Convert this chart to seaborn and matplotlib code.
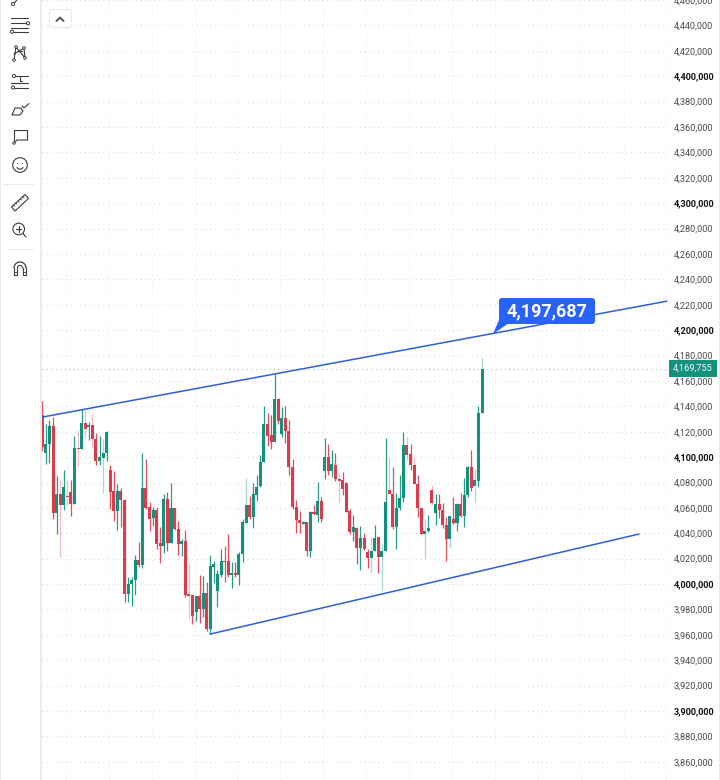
import numpy as np
import pandas as pd
import matplotlib
matplotlib.use("Agg")
import matplotlib.pyplot as plt
import seaborn as sns
from matplotlib.patches import Circle, FancyBboxPatch, Polygon, Rectangle

# prices in thousands
opens = [
    4133.0, 4103.6, 4110.2, 4124.4, 4055.6, 4070.8, 4062.4, 4069.3, 4072.9, 4063.0,
    4106.8, 4106.3, 4126.5, 4123.9, 4125.2, 4114.1, 4096.8, 4099.4, 4103.4, 4089.7,
    4073.2, 4057.7, 4073.2, 4066.6, 3992.3, 4000.0, 4003.1, 4018.8, 4014.9, 4075.3,
    4060.6, 4051.9, 4058.2, 4032.2, 4030.1, 4066.9, 4032.5, 4059.8, 4043.3, 4031.7,
    4033.8, 3991.8, 3991.3, 3978.2, 3990.5, 3980.5, 3992.6, 3965.0, 4013.6, 3994.7,
    4007.0, 4018.1, 4018.1, 4006.8, 4008.4, 4007.0, 4023.6, 4048.2, 4061.9, 4053.0,
    4070.3, 4077.1, 4096.3, 4126.0, 4117.3, 4112.0, 4145.6, 4118.3, 4130.9, 4120.4,
    4092.6, 4060.6, 4050.3, 4047.7, 4048.8, 4025.9, 4056.6, 4054.5, 4065.8, 4089.2,
    4100.0, 4089.2, 4093.7, 4082.6, 4081.9, 4079.5, 4057.4, 4040.9, 4044.3, 4028.6,
    4035.9, 4025.4, 4020.7, 4026.2, 4037.0, 4021.5, 4026.2, 4073.7, 4070.8, 4044.8,
    4060.1, 4068.0, 4109.4, 4102.3, 4093.4, 4078.7, 4059.8, 4039.6, 4042.0, 4074.0,
    4056.1, 4063.0, 4058.2, 4046.7, 4035.7, 4051.1, 4048.2, 4063.0, 4053.8, 4069.8,
    4092.1, 4077.1, 4081.3, 4134.4,
]
closes = [
    4108.1, 4110.7, 4124.4, 4055.6, 4070.8, 4062.4, 4076.1, 4068.7, 4063.0, 4106.8,
    4106.3, 4126.5, 4122.3, 4125.2, 4114.1, 4096.8, 4099.7, 4103.4, 4119.9, 4072.7,
    4057.7, 4073.2, 4066.1, 3992.3, 4000.0, 4003.1, 4018.8, 4014.9, 4075.3, 4060.1,
    4051.1, 4058.2, 4031.7, 4030.1, 4066.9, 4032.5, 4059.8, 4043.3, 4031.7, 4033.8,
    3991.3, 3991.0, 3974.7, 3990.5, 3980.5, 3992.6, 3965.0, 4014.1, 4016.2, 4007.6,
    4018.1, 4017.5, 4006.8, 4008.4, 4006.8, 4023.6, 4048.5, 4061.9, 4053.0, 4070.6,
    4076.3, 4096.3, 4126.0, 4116.8, 4112.0, 4145.6, 4128.6, 4130.9, 4120.2, 4092.6,
    4060.6, 4050.3, 4048.0, 4048.8, 4025.9, 4056.6, 4054.8, 4065.8, 4051.4, 4099.7,
    4089.2, 4094.2, 4082.9, 4081.3, 4075.0, 4056.9, 4040.9, 4044.6, 4028.6, 4035.9,
    4027.5, 4020.7, 4025.9, 4035.9, 4021.5, 4025.9, 4065.0, 4071.1, 4044.6, 4060.3,
    4067.4, 4109.4, 4101.8, 4093.9, 4079.0, 4060.1, 4039.6, 4042.0, 4043.8, 4063.5,
    4063.2, 4058.5, 4046.7, 4035.7, 4054.0, 4048.2, 4063.0, 4053.8, 4070.0, 4092.4,
    4075.8, 4081.6, 4134.4, 4169.755,
]
highs = [
    4144.3, 4125.7, 4129.6, 4131.7, 4085.0, 4081.9, 4090.2, 4081.9, 4081.9, 4116.5,
    4121.2, 4137.5, 4137.0, 4127.5, 4133.6, 4119.1, 4116.5, 4114.4, 4120.7, 4093.7,
    4088.7, 4079.2, 4075.3, 4067.1, 4005.7, 4005.7, 4022.8, 4033.0, 4102.9, 4098.9,
    4064.3, 4060.9, 4060.9, 4045.1, 4070.8, 4072.9, 4080.0, 4059.8, 4049.6, 4035.4,
    4042.5, 4015.7, 3991.3, 3990.5, 4007.3, 4006.2, 4001.8, 4022.8, 4018.1, 4011.0,
    4027.5, 4029.9, 4039.3, 4017.5, 4017.5, 4025.4, 4050.9, 4083.2, 4069.2, 4080.0,
    4086.0, 4101.5, 4140.4, 4134.9, 4133.0, 4166.1, 4146.2, 4139.6, 4140.1, 4129.6,
    4098.4, 4066.1, 4057.7, 4049.3, 4048.8, 4057.4, 4062.2, 4080.5, 4068.2, 4114.7,
    4110.7, 4105.5, 4102.9, 4087.1, 4088.4, 4080.5, 4059.0, 4054.3, 4044.3, 4045.6,
    4039.9, 4028.0, 4036.7, 4046.9, 4037.0, 4031.4, 4115.4, 4099.7, 4092.4, 4071.9,
    4085.8, 4119.4, 4116.0, 4110.7, 4100.2, 4086.3, 4059.8, 4051.1, 4054.3, 4077.9,
    4070.8, 4070.8, 4063.7, 4053.0, 4054.0, 4068.2, 4063.5, 4071.9, 4083.2, 4092.9,
    4105.5, 4091.0, 4140.4, 4178.4,
]
lows = [
    4105.0, 4094.4, 4095.5, 4050.9, 4039.3, 4021.0, 4058.7, 4062.2, 4053.5, 4063.0,
    4092.9, 4106.3, 4114.7, 4113.4, 4108.1, 4093.7, 4093.7, 4071.9, 4097.1, 4059.5,
    4049.8, 4042.5, 4045.1, 3986.0, 3986.0, 3982.6, 3991.3, 4013.6, 4012.8, 4059.5,
    4041.9, 4045.9, 4027.3, 4016.8, 4024.6, 4026.2, 4032.0, 4042.5, 4022.8, 4022.0,
    3989.5, 3972.7, 3968.4, 3971.1, 3969.5, 3973.7, 3963.2, 3960.6, 4001.0, 3981.6,
    4005.7, 4001.3, 4005.7, 3997.3, 4005.7, 3999.2, 4017.5, 4047.2, 4050.9, 4043.8,
    4065.6, 4076.6, 4095.8, 4108.9, 4106.0, 4111.8, 4125.7, 4116.0, 4111.5, 4085.8,
    4059.5, 4039.9, 4039.9, 4047.2, 4022.0, 4021.0, 4054.3, 4049.0, 4048.5, 4082.9,
    4085.8, 4084.5, 4080.8, 4064.8, 4070.0, 4056.9, 4039.3, 4033.8, 4015.7, 4011.0,
    4026.7, 4012.8, 4009.7, 4026.2, 4008.9, 3994.7, 4026.2, 4071.1, 4043.3, 4027.8,
    4058.2, 4064.5, 4097.6, 4089.7, 4078.7, 4053.0, 4039.3, 4019.9, 4041.4, 4063.0,
    4046.4, 4051.7, 4043.8, 4018.3, 4028.6, 4047.2, 4042.0, 4053.0, 4044.6, 4068.7,
    4073.4, 4064.3, 4076.6, 4134.4,
]
faint_wicks = [5, 7, 10, 12, 14, 17, 41, 57, 83, 92, 95, 97, 102, 104, 107, 109, 114, 121, 123]

upper_bar = [0, 174.7]
upper_price = [4131.5, 4222.8]
lower_bar = [46.9, 166.9]
lower_price = [3960.6, 4039.4]

tag_price = 4197.687
last_price = 4169.755
price_ticks = np.arange(3860, 4461, 20)

GREEN = "#12917C"
RED = "#DE3A4B"
BLUE = "#2F5FD6"
TAG_BLUE = "#2962FF"
ICON = "#3c3c3c"

sns.set_theme(style="white")
plt.rcParams["font.family"] = ["Roboto", "DejaVu Sans"]

df = pd.DataFrame({"open": opens, "close": closes, "high": highs, "low": lows})
df["bar"] = df.index
df["up"] = df["close"] >= df["open"]
df["color"] = np.where(df["up"], GREEN, RED)
df["alpha"] = [0.35 if i in faint_wicks else 0.9 for i in df["bar"]]

fig = plt.figure(figsize=(7.2, 7.8), dpi=100, facecolor="white")
ax = fig.add_axes([42 / 720, 0, 626 / 720, 1])
ax.set_xlim((42 - 42.3) / 3.575, (668 - 42.3) / 3.575)
ax.set_ylim(3845.7, 4460)

# grid
ax.set_yticks(price_ticks)
ax.set_xticks(np.arange(6.6, 175, 12))
ax.grid(True, axis="y", color="#dfdfdf", lw=0.8, ls=(0, (1, 3.2)), zorder=0)
ax.grid(True, axis="x", color="#ebebeb", lw=0.8, ls=(0, (1, 3.2)), zorder=0)
ax.set_axisbelow(True)
ax.yaxis.tick_right()
ax.tick_params(axis="y", length=0, pad=4.3)
ax.tick_params(axis="x", length=0, labelbottom=False)
ax.set_yticklabels([f"{v * 1000:,.0f}" for v in price_ticks], fontsize=6.6, color="#4a4a4a")
for lab, v in zip(ax.get_yticklabels(), price_ticks):
    if v % 100 == 0:
        lab.set_fontweight("bold")
        lab.set_color("#111111")
sns.despine(ax=ax, left=True, right=True, top=True, bottom=True)

# candles
for row in df.itertuples():
    ax.vlines(row.bar, row.low, row.high, color=row.color, lw=0.9, alpha=row.alpha, zorder=2)
ax.bar(df["bar"], (df["close"] - df["open"]).abs(), bottom=df[["open", "close"]].min(axis=1),
       width=0.84, color=df["color"], lw=0, zorder=3)

# channel
sns.lineplot(x=upper_bar, y=upper_price, ax=ax, color=BLUE, lw=1.1, zorder=4)
sns.lineplot(x=lower_bar, y=lower_price, ax=ax, color=BLUE, lw=1.1, zorder=4)
ax.axhline(last_price, color="#9ccfc5", lw=0.8, ls=(0, (1, 3)), zorder=1)

ax.text(1.008, last_price, f"{last_price * 1000:,.0f}", transform=ax.get_yaxis_transform(),
        ha="left", va="center", fontsize=6.6, color="white", zorder=6, clip_on=False,
        bbox=dict(boxstyle="square,pad=0.45", fc=GREEN, ec="none"))

# toolbar and price callout, drawn in pixels on top of everything
pane = fig.add_axes([0, 0, 1, 1], facecolor="none", zorder=5)
pane.set_xlim(0, 720)
pane.set_ylim(780, 0)
pane.axis("off")

pane.add_patch(FancyBboxPatch((499, 298), 96, 26, boxstyle="round,pad=0,rounding_size=3",
                              fc=TAG_BLUE, ec="none"))
pane.add_patch(Polygon([(499, 320), (509, 323), (493, 334)], closed=True, fc=TAG_BLUE, ec="none"))
pane.text(547, 311.5, f"{tag_price * 1000:,.0f}", ha="center", va="center", color="white",
          fontsize=13, fontweight="bold")

pane.add_patch(Rectangle((0, 0), 39.5, 780, fc="white", ec="none"))
pane.add_patch(Rectangle((39.5, 0), 2.5, 780, fc="#ebebeb", ec="none"))
pane.add_patch(Rectangle((0, 0), 1, 780, fc="#ebebeb", ec="none"))
pane.add_patch(Rectangle((718.5, 0), 1.5, 780, fc="#ebebeb", ec="none"))


def stroke(xs, ys, lw=0.8, color=ICON):
    pane.plot(xs, ys, color=color, lw=lw, solid_capstyle="round")


def dot(x, y, r=1.6):
    pane.add_patch(Circle((x, y), r, fc="white", ec=ICON, lw=0.7, zorder=3))


stroke([13, 17], [4, 0])
dot(13, 4)

stroke([11, 28], [18.3, 18.3])
stroke([11, 27], [23.3, 23.3])
stroke([11, 28], [27.7, 27.7])
stroke([13, 28], [31.7, 31.7])
dot(28, 23.3)
dot(12, 31.7)

xabcd_x = [14, 16, 25, 24, 14]
xabcd_y = [60, 47, 58, 48, 54]
stroke(xabcd_x, xabcd_y)
for px, py in zip(xabcd_x[:4], xabcd_y[:4]):
    dot(px, py, 1.3)
stroke([18, 22], [51, 51])

stroke([14, 28], [76, 76])
stroke([11, 28], [83, 83])
stroke([13, 28], [87.5, 87.5])
stroke([20, 20, 22], [77, 81, 81])
dot(14, 76)
dot(13, 87.5)

brush = Polygon([(12, 115), (15, 108), (21, 108), (23, 111), (20, 115)], closed=True, fc="white", ec=ICON, lw=0.8)
pane.add_patch(brush)
stroke([22, 24, 29], [106, 108, 103.5])

stroke([14.5, 14.5, 27.5, 27.5, 17, 14], [141, 130.5, 130.5, 140, 140, 143])
dot(14, 143, 1.2)

pane.add_patch(Circle((20, 165), 7.3, fc="none", ec=ICON, lw=0.8))
pane.add_patch(Circle((17.5, 163.5), 0.55, fc=ICON, ec="none"))
pane.add_patch(Circle((22.5, 163.5), 0.55, fc=ICON, ec="none"))
stroke([17, 18.5, 21.5, 23], [167.5, 169, 169, 167.5])

stroke([2, 33], [184, 184], lw=0.9, color="#ececec")

pane.add_patch(Polygon([(11.5, 207), (25, 194.5), (28.5, 198.5), (15, 211)], closed=True, fc="white", ec=ICON, lw=0.8))
for t in np.arange(0.15, 0.95, 0.17):
    tx = 11.5 + 13.5 * t
    ty = 207 - 12.5 * t
    stroke([tx, tx + 1.2], [ty, ty + 1.3], lw=0.6)

pane.add_patch(Circle((18.7, 229), 5.8, fc="none", ec=ICON, lw=0.8))
stroke([16, 21.4], [229, 229])
stroke([18.7, 18.7], [226.3, 231.7])
stroke([23, 26], [233.5, 237])

stroke([7, 33], [249, 249], lw=0.9, color="#ececec")

theta = np.linspace(np.pi, 0, 30)
stroke(20 + 6 * np.cos(theta), 268 - 6 * np.sin(theta), lw=0.9)
stroke(20 + 2.6 * np.cos(theta), 268 - 2.6 * np.sin(theta), lw=0.8)
stroke([14, 14, 17.4, 17.4], [268, 274.5, 274.5, 268])
stroke([22.6, 22.6, 26, 26], [268, 274.5, 274.5, 268])
stroke([14, 17.4], [272, 272], lw=0.6)
stroke([22.6, 26], [272, 272], lw=0.6)

pane.add_patch(FancyBboxPatch((49.5, 9.5), 22, 18, boxstyle="round,pad=0,rounding_size=2",
                              fc="white", ec="#ececec", lw=0.9))
stroke([56.5, 60, 63.5], [21, 17.5, 21], lw=1.4, color="#555555")

fig.savefig("out.png", dpi=100)
